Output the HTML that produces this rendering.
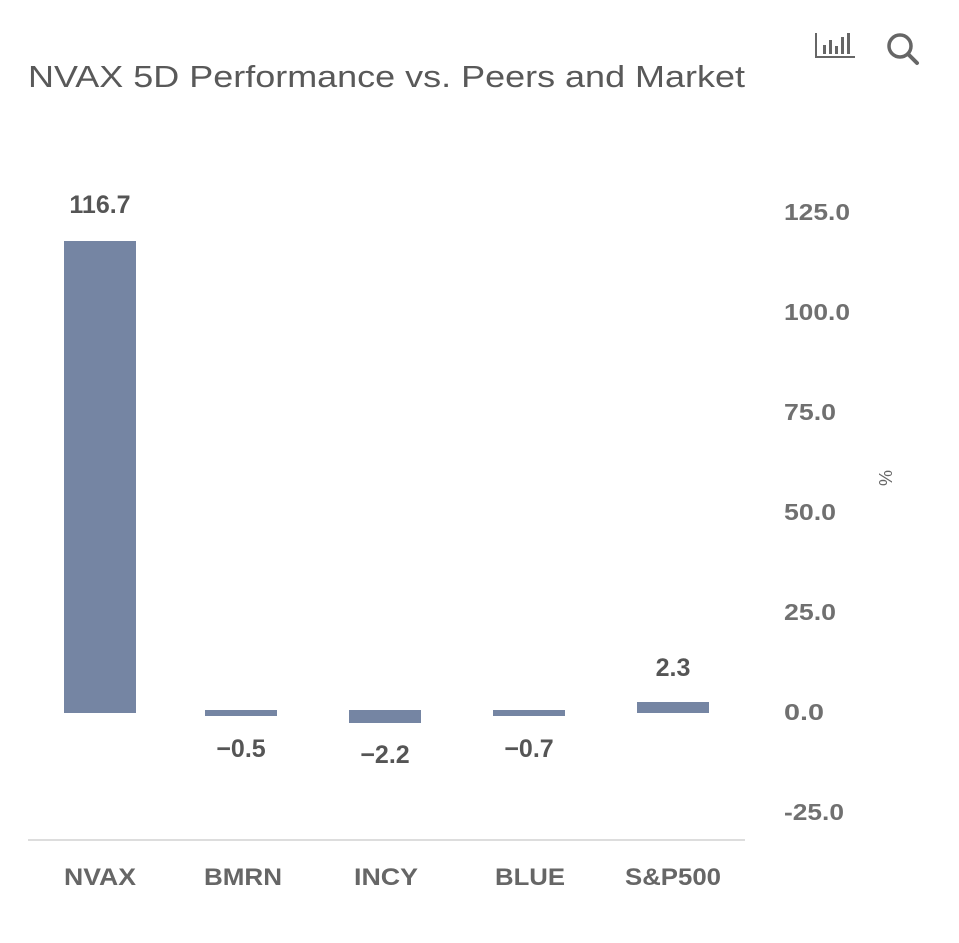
<!DOCTYPE html>
<html><head><style>
body{margin:0;width:959px;height:943px;background:#fff;overflow:hidden;font-family:"Liberation Sans",sans-serif}
svg{position:absolute;left:0;top:0}
</style></head><body>
<svg width="959" height="943" viewBox="0 0 959 943">
<text x="28" y="87" font-size="31" fill="#595959" textLength="717" lengthAdjust="spacingAndGlyphs">NVAX 5D Performance vs. Peers and Market</text>
<g fill="#666">
<rect x="815" y="33" width="2" height="25"/><rect x="815" y="56" width="40" height="2"/>
<rect x="823" y="45" width="3" height="9"/><rect x="829" y="40" width="3" height="14"/><rect x="835" y="46" width="3" height="8"/><rect x="841" y="37" width="3" height="17"/><rect x="847" y="33" width="3" height="21"/>
</g>
<circle cx="900" cy="46" r="11" fill="none" stroke="#666" stroke-width="3.5"/>
<line x1="908" y1="54" x2="917" y2="63" stroke="#666" stroke-width="4" stroke-linecap="round"/>
<g fill="#7585a3">
<rect x="64" y="241" width="72" height="472"/>
<rect x="205" y="710" width="72" height="6"/>
<rect x="349" y="710" width="72" height="13"/>
<rect x="493" y="710" width="72" height="6"/>
<rect x="637" y="702" width="72" height="11"/>
</g>
<g font-size="25" font-weight="bold" fill="#555" text-anchor="middle">
<text x="100" y="213">116.7</text>
<text x="241" y="757">−0.5</text>
<text x="385" y="763">−2.2</text>
<text x="529" y="757">−0.7</text>
<text x="673" y="676">2.3</text>
</g>
<g font-size="23" font-weight="bold" fill="#707070">
<text x="784" y="220" textLength="66" lengthAdjust="spacingAndGlyphs">125.0</text>
<text x="784" y="320" textLength="66" lengthAdjust="spacingAndGlyphs">100.0</text>
<text x="784" y="420" textLength="52" lengthAdjust="spacingAndGlyphs">75.0</text>
<text x="784" y="520" textLength="52" lengthAdjust="spacingAndGlyphs">50.0</text>
<text x="784" y="620" textLength="52" lengthAdjust="spacingAndGlyphs">25.0</text>
<text x="784" y="720" textLength="40" lengthAdjust="spacingAndGlyphs">0.0</text>
<text x="784" y="820" textLength="60" lengthAdjust="spacingAndGlyphs">-25.0</text>
</g>
<text x="0" y="0" font-size="18" fill="#666" transform="translate(879,478) rotate(90)" text-anchor="middle">%</text>
<rect x="28" y="839" width="717" height="2" fill="#ddd"/>
<g font-size="24" font-weight="bold" fill="#666" text-anchor="middle">
<text x="100" y="885" textLength="72" lengthAdjust="spacingAndGlyphs">NVAX</text>
<text x="243" y="885" textLength="78" lengthAdjust="spacingAndGlyphs">BMRN</text>
<text x="386" y="885" textLength="64" lengthAdjust="spacingAndGlyphs">INCY</text>
<text x="530" y="885" textLength="70" lengthAdjust="spacingAndGlyphs">BLUE</text>
<text x="673" y="885" textLength="96" lengthAdjust="spacingAndGlyphs">S&amp;P500</text>
</g>
</svg>
</body></html>
